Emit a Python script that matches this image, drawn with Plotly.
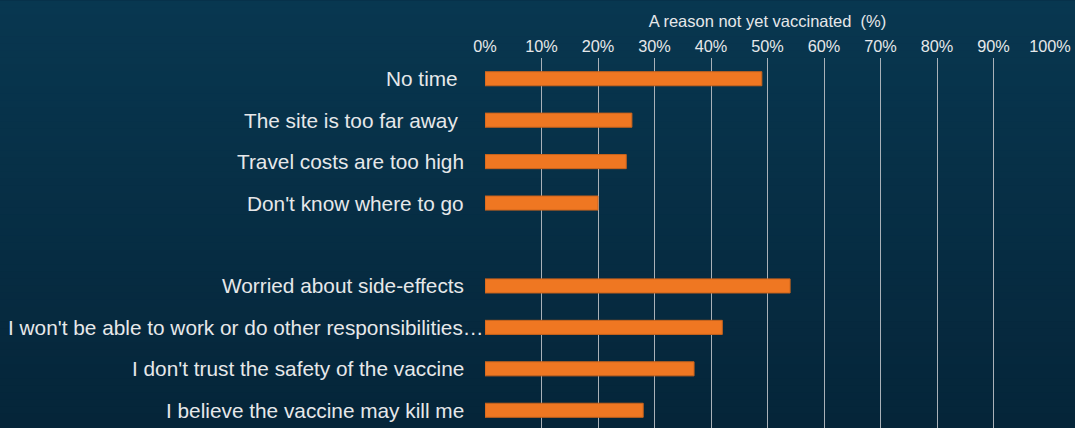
import plotly.graph_objects as go

categories = [
    "No time ",
    "The site is too far away ",
    "Travel costs are too high",
    "Don't know where to go",
    " ",
    "Worried about side-effects",
    "I won't be able to work or do other responsibilities\u2026",
    "I don't trust the safety of the vaccine",
    "I believe the vaccine may kill me",
]
values = [49, 26, 25, 20, None, 54, 42, 37, 28]
x_ticks = [0, 10, 20, 30, 40, 50, 60, 70, 80, 90, 100]
x_tick_labels = [f"{v}%" for v in x_ticks]
axis_title = "A reason not yet vaccinated  (%)"

W, H = 1075, 428
TEXT = "#e6e8ea"
FONT = "Liberation Sans, Arial, sans-serif"
LABEL_SIZE = 20.8

fig = go.Figure()
fig.add_trace(go.Bar(
    y=categories, x=values, orientation="h",
    marker=dict(color="#ef7722", line=dict(color="#c9631c", width=1)),
    width=0.34, hoverinfo="x+y",
))

# gradient background bands
n = 60
top = (8, 55, 80)
bot = (5, 37, 57)
plot_top = 57.5
plot_h = H - plot_top
shapes = []
for i in range(n):
    t = i / (n - 1)
    c = tuple(round(top[k] + (bot[k] - top[k]) * t) for k in range(3))
    y_px0 = H * i / n
    y_px1 = H * (i + 1) / n + 1
    p0 = (H - y_px0) / plot_h
    p1 = (H - y_px1) / plot_h
    shapes.append(dict(
        type="rect", xref="paper", yref="paper", layer="below",
        x0=-1.2, x1=1.2, y0=p1, y1=p0,
        line=dict(width=0), fillcolor=f"rgb{c}",
    ))

annotations = []
for cat in categories:
    if not cat.strip():
        continue
    if cat.endswith("\u2026"):
        shift = 1
    elif cat.endswith(" "):
        shift = -19 - 0.278 * LABEL_SIZE
    else:
        shift = -19
    annotations.append(dict(
        x=0, y=cat, xref="x", yref="y", text=cat.strip(), showarrow=False,
        xanchor="right", yanchor="middle", xshift=shift,
        font=dict(family=FONT, size=LABEL_SIZE, color=TEXT),
    ))

fig.update_layout(
    width=W, height=H,
    margin=dict(l=485, r=25, t=57.5, b=0, pad=0),
    paper_bgcolor="rgb(6,45,68)",
    plot_bgcolor="rgba(0,0,0,0)",
    showlegend=False,
    shapes=shapes,
    annotations=annotations,
    font=dict(family=FONT, color=TEXT),
    xaxis=dict(
        side="top", range=[0, 100], tickvals=x_ticks, ticktext=x_tick_labels,
        showgrid=True, gridcolor="#a9b1b8", gridwidth=1,
        zeroline=False, showline=False, ticks="",
        tickfont=dict(family=FONT, size=16.3, color=TEXT),
        ticklabelstandoff=2,
        title=dict(text=axis_title, font=dict(family=FONT, size=16.5, color=TEXT), standoff=4),
        fixedrange=True,
    ),
    yaxis=dict(
        type="category", categoryorder="array", categoryarray=categories,
        range=[8.428, -0.5], showticklabels=False, showgrid=False,
        zeroline=False, ticks="", fixedrange=True,
    ),
    bargap=0.66,
)

fig.write_html("out.html")
